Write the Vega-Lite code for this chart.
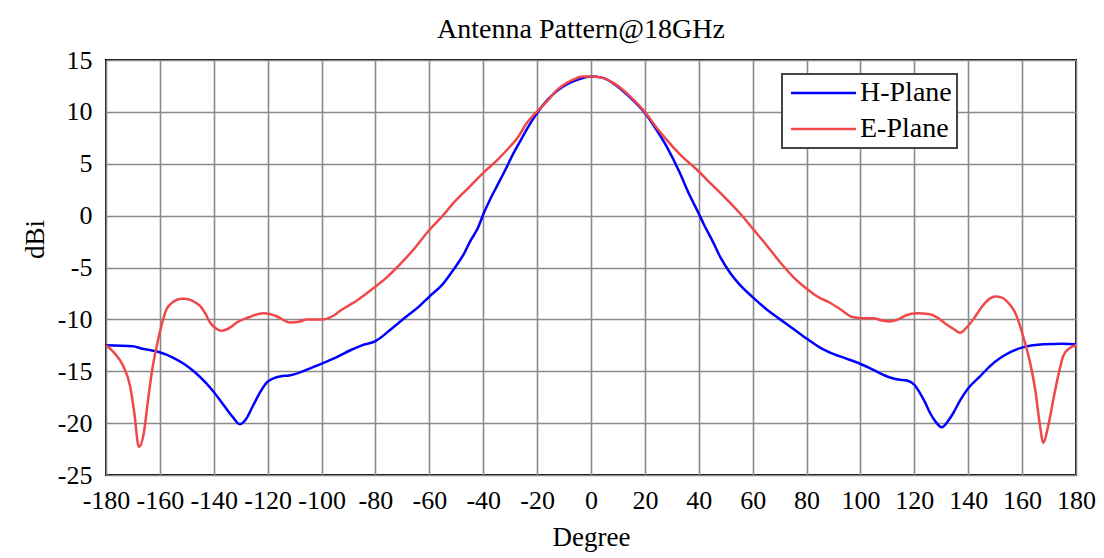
{
  "$schema": "https://vega.github.io/schema/vega-lite/v6.json",
  "autosize": {"type": "none"},
  "width": 970,
  "height": 415,
  "padding": {"left": 106, "top": 60, "right": 28, "bottom": 83},
  "background": "white",
  "title": {
    "text": "Antenna Pattern@18GHz",
    "font": "Liberation Serif",
    "fontSize": 28,
    "fontWeight": "normal",
    "color": "black",
    "anchor": "middle",
    "baseline": "alphabetic",
    "offset": -19,
    "dx": -10
  },
  "config": {
    "view": {"stroke": "black", "strokeWidth": 2},
    "axis": {
      "labelFont": "Liberation Serif",
      "titleFont": "Liberation Serif",
      "labelColor": "black",
      "titleColor": "black",
      "labelFontSize": 26,
      "titleFontSize": 27,
      "titleFontWeight": "normal",
      "ticks": false,
      "domain": false,
      "gridColor": "#8a8a8a",
      "gridWidth": 1.6,
      "gridOpacity": 1,
      "labelExpr": "'' + datum.value"
    }
  },
  "data": {
    "values": [
      {"plane": "H-Plane", "deg": -180, "dbi": -12.5},
      {"plane": "H-Plane", "deg": -170, "dbi": -12.6},
      {"plane": "H-Plane", "deg": -167, "dbi": -12.8},
      {"plane": "H-Plane", "deg": -161, "dbi": -13.1},
      {"plane": "H-Plane", "deg": -155, "dbi": -13.7},
      {"plane": "H-Plane", "deg": -151, "dbi": -14.3},
      {"plane": "H-Plane", "deg": -147, "dbi": -15.1},
      {"plane": "H-Plane", "deg": -143, "dbi": -16.1},
      {"plane": "H-Plane", "deg": -140, "dbi": -17.0},
      {"plane": "H-Plane", "deg": -136.5, "dbi": -18.2},
      {"plane": "H-Plane", "deg": -133, "dbi": -19.4},
      {"plane": "H-Plane", "deg": -130.3, "dbi": -20.1},
      {"plane": "H-Plane", "deg": -128, "dbi": -19.6},
      {"plane": "H-Plane", "deg": -125.4, "dbi": -18.3},
      {"plane": "H-Plane", "deg": -122.5, "dbi": -16.9},
      {"plane": "H-Plane", "deg": -120.4, "dbi": -16.1},
      {"plane": "H-Plane", "deg": -118, "dbi": -15.7},
      {"plane": "H-Plane", "deg": -115.4, "dbi": -15.5},
      {"plane": "H-Plane", "deg": -112, "dbi": -15.4},
      {"plane": "H-Plane", "deg": -109, "dbi": -15.2},
      {"plane": "H-Plane", "deg": -105, "dbi": -14.8},
      {"plane": "H-Plane", "deg": -99.4, "dbi": -14.2},
      {"plane": "H-Plane", "deg": -94, "dbi": -13.6},
      {"plane": "H-Plane", "deg": -89.5, "dbi": -13.0},
      {"plane": "H-Plane", "deg": -85, "dbi": -12.5},
      {"plane": "H-Plane", "deg": -80, "dbi": -12.1},
      {"plane": "H-Plane", "deg": -74, "dbi": -10.9},
      {"plane": "H-Plane", "deg": -68.4, "dbi": -9.7},
      {"plane": "H-Plane", "deg": -64, "dbi": -8.8},
      {"plane": "H-Plane", "deg": -60, "dbi": -7.8},
      {"plane": "H-Plane", "deg": -55, "dbi": -6.6},
      {"plane": "H-Plane", "deg": -51, "dbi": -5.2},
      {"plane": "H-Plane", "deg": -47, "dbi": -3.6},
      {"plane": "H-Plane", "deg": -44.9, "dbi": -2.5},
      {"plane": "H-Plane", "deg": -42, "dbi": -1.2},
      {"plane": "H-Plane", "deg": -39.7, "dbi": 0.3},
      {"plane": "H-Plane", "deg": -37, "dbi": 1.8},
      {"plane": "H-Plane", "deg": -35, "dbi": 2.8},
      {"plane": "H-Plane", "deg": -32, "dbi": 4.3},
      {"plane": "H-Plane", "deg": -28.8, "dbi": 6.0},
      {"plane": "H-Plane", "deg": -26, "dbi": 7.3},
      {"plane": "H-Plane", "deg": -23.9, "dbi": 8.3},
      {"plane": "H-Plane", "deg": -20, "dbi": 9.9},
      {"plane": "H-Plane", "deg": -16, "dbi": 11.2},
      {"plane": "H-Plane", "deg": -12.7, "dbi": 12.0},
      {"plane": "H-Plane", "deg": -8, "dbi": 12.8},
      {"plane": "H-Plane", "deg": -4, "dbi": 13.2},
      {"plane": "H-Plane", "deg": 0, "dbi": 13.4},
      {"plane": "H-Plane", "deg": 4, "dbi": 13.3},
      {"plane": "H-Plane", "deg": 8, "dbi": 12.8},
      {"plane": "H-Plane", "deg": 14.5, "dbi": 11.4},
      {"plane": "H-Plane", "deg": 20, "dbi": 9.9},
      {"plane": "H-Plane", "deg": 24, "dbi": 8.4},
      {"plane": "H-Plane", "deg": 28, "dbi": 6.7},
      {"plane": "H-Plane", "deg": 33, "dbi": 4.1},
      {"plane": "H-Plane", "deg": 36, "dbi": 2.3},
      {"plane": "H-Plane", "deg": 39.8, "dbi": 0.3},
      {"plane": "H-Plane", "deg": 42, "dbi": -0.9},
      {"plane": "H-Plane", "deg": 45.4, "dbi": -2.6},
      {"plane": "H-Plane", "deg": 48, "dbi": -4.0},
      {"plane": "H-Plane", "deg": 51.6, "dbi": -5.5},
      {"plane": "H-Plane", "deg": 55, "dbi": -6.6},
      {"plane": "H-Plane", "deg": 60.2, "dbi": -7.9},
      {"plane": "H-Plane", "deg": 65, "dbi": -9.0},
      {"plane": "H-Plane", "deg": 70.2, "dbi": -10.0},
      {"plane": "H-Plane", "deg": 75, "dbi": -10.9},
      {"plane": "H-Plane", "deg": 80.3, "dbi": -11.9},
      {"plane": "H-Plane", "deg": 86.2, "dbi": -12.9},
      {"plane": "H-Plane", "deg": 88.7, "dbi": -13.2},
      {"plane": "H-Plane", "deg": 95, "dbi": -13.8},
      {"plane": "H-Plane", "deg": 100.1, "dbi": -14.3},
      {"plane": "H-Plane", "deg": 105, "dbi": -14.9},
      {"plane": "H-Plane", "deg": 111, "dbi": -15.6},
      {"plane": "H-Plane", "deg": 114, "dbi": -15.8},
      {"plane": "H-Plane", "deg": 117.2, "dbi": -15.9},
      {"plane": "H-Plane", "deg": 120, "dbi": -16.3},
      {"plane": "H-Plane", "deg": 122.1, "dbi": -17.1},
      {"plane": "H-Plane", "deg": 124, "dbi": -18.0},
      {"plane": "H-Plane", "deg": 125.8, "dbi": -19.0},
      {"plane": "H-Plane", "deg": 128, "dbi": -19.9},
      {"plane": "H-Plane", "deg": 130.2, "dbi": -20.4},
      {"plane": "H-Plane", "deg": 132.5, "dbi": -19.8},
      {"plane": "H-Plane", "deg": 134.5, "dbi": -19.0},
      {"plane": "H-Plane", "deg": 137, "dbi": -17.8},
      {"plane": "H-Plane", "deg": 139.8, "dbi": -16.7},
      {"plane": "H-Plane", "deg": 144, "dbi": -15.6},
      {"plane": "H-Plane", "deg": 148.1, "dbi": -14.5},
      {"plane": "H-Plane", "deg": 152, "dbi": -13.7},
      {"plane": "H-Plane", "deg": 156, "dbi": -13.1},
      {"plane": "H-Plane", "deg": 160.2, "dbi": -12.7},
      {"plane": "H-Plane", "deg": 164, "dbi": -12.5},
      {"plane": "H-Plane", "deg": 167.9, "dbi": -12.4},
      {"plane": "H-Plane", "deg": 175, "dbi": -12.35},
      {"plane": "H-Plane", "deg": 180, "dbi": -12.4},

      {"plane": "E-Plane", "deg": -180, "dbi": -12.5},
      {"plane": "E-Plane", "deg": -177, "dbi": -13.2},
      {"plane": "E-Plane", "deg": -173.6, "dbi": -14.5},
      {"plane": "E-Plane", "deg": -171, "dbi": -16.5},
      {"plane": "E-Plane", "deg": -169.5, "dbi": -19.0},
      {"plane": "E-Plane", "deg": -167.8, "dbi": -22.3},
      {"plane": "E-Plane", "deg": -166, "dbi": -21.0},
      {"plane": "E-Plane", "deg": -164.5, "dbi": -18.0},
      {"plane": "E-Plane", "deg": -163, "dbi": -15.1},
      {"plane": "E-Plane", "deg": -160.6, "dbi": -11.9},
      {"plane": "E-Plane", "deg": -157.5, "dbi": -9.0},
      {"plane": "E-Plane", "deg": -155, "dbi": -8.3},
      {"plane": "E-Plane", "deg": -152, "dbi": -8.0},
      {"plane": "E-Plane", "deg": -150.7, "dbi": -8.0},
      {"plane": "E-Plane", "deg": -148, "dbi": -8.2},
      {"plane": "E-Plane", "deg": -145.1, "dbi": -8.7},
      {"plane": "E-Plane", "deg": -143, "dbi": -9.5},
      {"plane": "E-Plane", "deg": -141.4, "dbi": -10.3},
      {"plane": "E-Plane", "deg": -139, "dbi": -10.9},
      {"plane": "E-Plane", "deg": -137.1, "dbi": -11.1},
      {"plane": "E-Plane", "deg": -134, "dbi": -10.8},
      {"plane": "E-Plane", "deg": -131.5, "dbi": -10.3},
      {"plane": "E-Plane", "deg": -127, "dbi": -9.8},
      {"plane": "E-Plane", "deg": -121.6, "dbi": -9.4},
      {"plane": "E-Plane", "deg": -119, "dbi": -9.5},
      {"plane": "E-Plane", "deg": -116.7, "dbi": -9.7},
      {"plane": "E-Plane", "deg": -113, "dbi": -10.2},
      {"plane": "E-Plane", "deg": -111.7, "dbi": -10.3},
      {"plane": "E-Plane", "deg": -108, "dbi": -10.2},
      {"plane": "E-Plane", "deg": -105.5, "dbi": -10.0},
      {"plane": "E-Plane", "deg": -99.4, "dbi": -10.0},
      {"plane": "E-Plane", "deg": -96, "dbi": -9.7},
      {"plane": "E-Plane", "deg": -93.2, "dbi": -9.2},
      {"plane": "E-Plane", "deg": -89.5, "dbi": -8.6},
      {"plane": "E-Plane", "deg": -87, "dbi": -8.2},
      {"plane": "E-Plane", "deg": -80.8, "dbi": -7.0},
      {"plane": "E-Plane", "deg": -76, "dbi": -6.0},
      {"plane": "E-Plane", "deg": -70.9, "dbi": -4.7},
      {"plane": "E-Plane", "deg": -65, "dbi": -3.0},
      {"plane": "E-Plane", "deg": -60.4, "dbi": -1.5},
      {"plane": "E-Plane", "deg": -55, "dbi": 0.0},
      {"plane": "E-Plane", "deg": -51.1, "dbi": 1.2},
      {"plane": "E-Plane", "deg": -45, "dbi": 2.8},
      {"plane": "E-Plane", "deg": -39.7, "dbi": 4.2},
      {"plane": "E-Plane", "deg": -35, "dbi": 5.3},
      {"plane": "E-Plane", "deg": -31.3, "dbi": 6.3},
      {"plane": "E-Plane", "deg": -27, "dbi": 7.6},
      {"plane": "E-Plane", "deg": -23.9, "dbi": 8.9},
      {"plane": "E-Plane", "deg": -19.8, "dbi": 10.1},
      {"plane": "E-Plane", "deg": -16, "dbi": 11.1},
      {"plane": "E-Plane", "deg": -12.7, "dbi": 12.1},
      {"plane": "E-Plane", "deg": -9, "dbi": 12.8},
      {"plane": "E-Plane", "deg": -6.6, "dbi": 13.1},
      {"plane": "E-Plane", "deg": -3, "dbi": 13.4},
      {"plane": "E-Plane", "deg": 0.3, "dbi": 13.4},
      {"plane": "E-Plane", "deg": 4, "dbi": 13.3},
      {"plane": "E-Plane", "deg": 8.3, "dbi": 12.8},
      {"plane": "E-Plane", "deg": 11, "dbi": 12.3},
      {"plane": "E-Plane", "deg": 14.5, "dbi": 11.5},
      {"plane": "E-Plane", "deg": 20, "dbi": 10.0},
      {"plane": "E-Plane", "deg": 24, "dbi": 8.6},
      {"plane": "E-Plane", "deg": 28.1, "dbi": 7.3},
      {"plane": "E-Plane", "deg": 33, "dbi": 5.9},
      {"plane": "E-Plane", "deg": 39.8, "dbi": 4.3},
      {"plane": "E-Plane", "deg": 44, "dbi": 3.2},
      {"plane": "E-Plane", "deg": 49.1, "dbi": 1.9},
      {"plane": "E-Plane", "deg": 55, "dbi": 0.3},
      {"plane": "E-Plane", "deg": 60.2, "dbi": -1.3},
      {"plane": "E-Plane", "deg": 65, "dbi": -2.8},
      {"plane": "E-Plane", "deg": 70.2, "dbi": -4.5},
      {"plane": "E-Plane", "deg": 75, "dbi": -5.9},
      {"plane": "E-Plane", "deg": 80.3, "dbi": -7.1},
      {"plane": "E-Plane", "deg": 84, "dbi": -7.8},
      {"plane": "E-Plane", "deg": 88.7, "dbi": -8.4},
      {"plane": "E-Plane", "deg": 92.4, "dbi": -9.0},
      {"plane": "E-Plane", "deg": 97.4, "dbi": -9.8},
      {"plane": "E-Plane", "deg": 101, "dbi": -9.9},
      {"plane": "E-Plane", "deg": 104.8, "dbi": -9.9},
      {"plane": "E-Plane", "deg": 108, "dbi": -10.1},
      {"plane": "E-Plane", "deg": 111, "dbi": -10.2},
      {"plane": "E-Plane", "deg": 114, "dbi": -10.0},
      {"plane": "E-Plane", "deg": 117, "dbi": -9.6},
      {"plane": "E-Plane", "deg": 120.9, "dbi": -9.4},
      {"plane": "E-Plane", "deg": 125.8, "dbi": -9.5},
      {"plane": "E-Plane", "deg": 129, "dbi": -9.9},
      {"plane": "E-Plane", "deg": 132, "dbi": -10.5},
      {"plane": "E-Plane", "deg": 135, "dbi": -11.0},
      {"plane": "E-Plane", "deg": 137, "dbi": -11.3},
      {"plane": "E-Plane", "deg": 139, "dbi": -10.9},
      {"plane": "E-Plane", "deg": 141.9, "dbi": -10.0},
      {"plane": "E-Plane", "deg": 145, "dbi": -8.8},
      {"plane": "E-Plane", "deg": 148, "dbi": -8.0},
      {"plane": "E-Plane", "deg": 150, "dbi": -7.8},
      {"plane": "E-Plane", "deg": 152.5, "dbi": -7.9},
      {"plane": "E-Plane", "deg": 155.5, "dbi": -8.6},
      {"plane": "E-Plane", "deg": 157.5, "dbi": -9.4},
      {"plane": "E-Plane", "deg": 159.2, "dbi": -10.6},
      {"plane": "E-Plane", "deg": 161, "dbi": -12.2},
      {"plane": "E-Plane", "deg": 163, "dbi": -14.2},
      {"plane": "E-Plane", "deg": 165, "dbi": -17.0},
      {"plane": "E-Plane", "deg": 166.5, "dbi": -20.0},
      {"plane": "E-Plane", "deg": 167.9, "dbi": -21.9},
      {"plane": "E-Plane", "deg": 169.5, "dbi": -20.5},
      {"plane": "E-Plane", "deg": 171.6, "dbi": -17.7},
      {"plane": "E-Plane", "deg": 173.5, "dbi": -15.3},
      {"plane": "E-Plane", "deg": 175.3, "dbi": -13.5},
      {"plane": "E-Plane", "deg": 177.5, "dbi": -12.8},
      {"plane": "E-Plane", "deg": 180, "dbi": -12.5}
    ]
  },
  "mark": {"type": "line", "strokeWidth": 2.5, "interpolate": "monotone"},
  "encoding": {
    "x": {
      "field": "deg",
      "type": "quantitative",
      "scale": {"domain": [-180, 180], "nice": false, "zero": false},
      "axis": {
        "values": [-180, -160, -140, -120, -100, -80, -60, -40, -20, 0, 20, 40, 60, 80, 100, 120, 140, 160, 180],
        "title": "Degree",
        "labelBaseline": "alphabetic",
        "labelPadding": 33,
        "labelFlush": false,
        "labelOverlap": false,
        "titleBaseline": "alphabetic",
        "titleY": 70,
        "titleX": 485
      }
    },
    "y": {
      "field": "dbi",
      "type": "quantitative",
      "scale": {"domain": [-25, 15], "nice": false, "zero": false},
      "axis": {
        "values": [-25, -20, -15, -10, -5, 0, 5, 10, 15],
        "title": "dBi",
        "labelPadding": 14,
        "labelBaseline": "middle",
        "labelFlush": false,
        "labelOverlap": false,
        "titleAngle": -90,
        "titleBaseline": "alphabetic",
        "titleAlign": "center",
        "titleX": -63,
        "titleY": 179
      }
    },
    "color": {
      "field": "plane",
      "type": "nominal",
      "sort": ["H-Plane", "E-Plane"],
      "scale": {"domain": ["H-Plane", "E-Plane"], "range": ["#0000ff", "#f04848"]},
      "legend": {
        "title": null,
        "orient": "none",
        "legendX": 676,
        "legendY": 14,
        "direction": "vertical",
        "fillColor": "white",
        "strokeColor": "#444444",
        "padding": 5,
        "symbolType": "M-1,0H5.5",
        "symbolSize": 400,
        "symbolStrokeWidth": 2.5,
        "labelFont": "Liberation Serif",
        "labelFontSize": 28,
        "labelColor": "black",
        "labelOffset": 45,
        "rowPadding": 8,
        "encode": {"legend": {"update": {"strokeWidth": {"value": 2}}}}
      }
    }
  }
}
